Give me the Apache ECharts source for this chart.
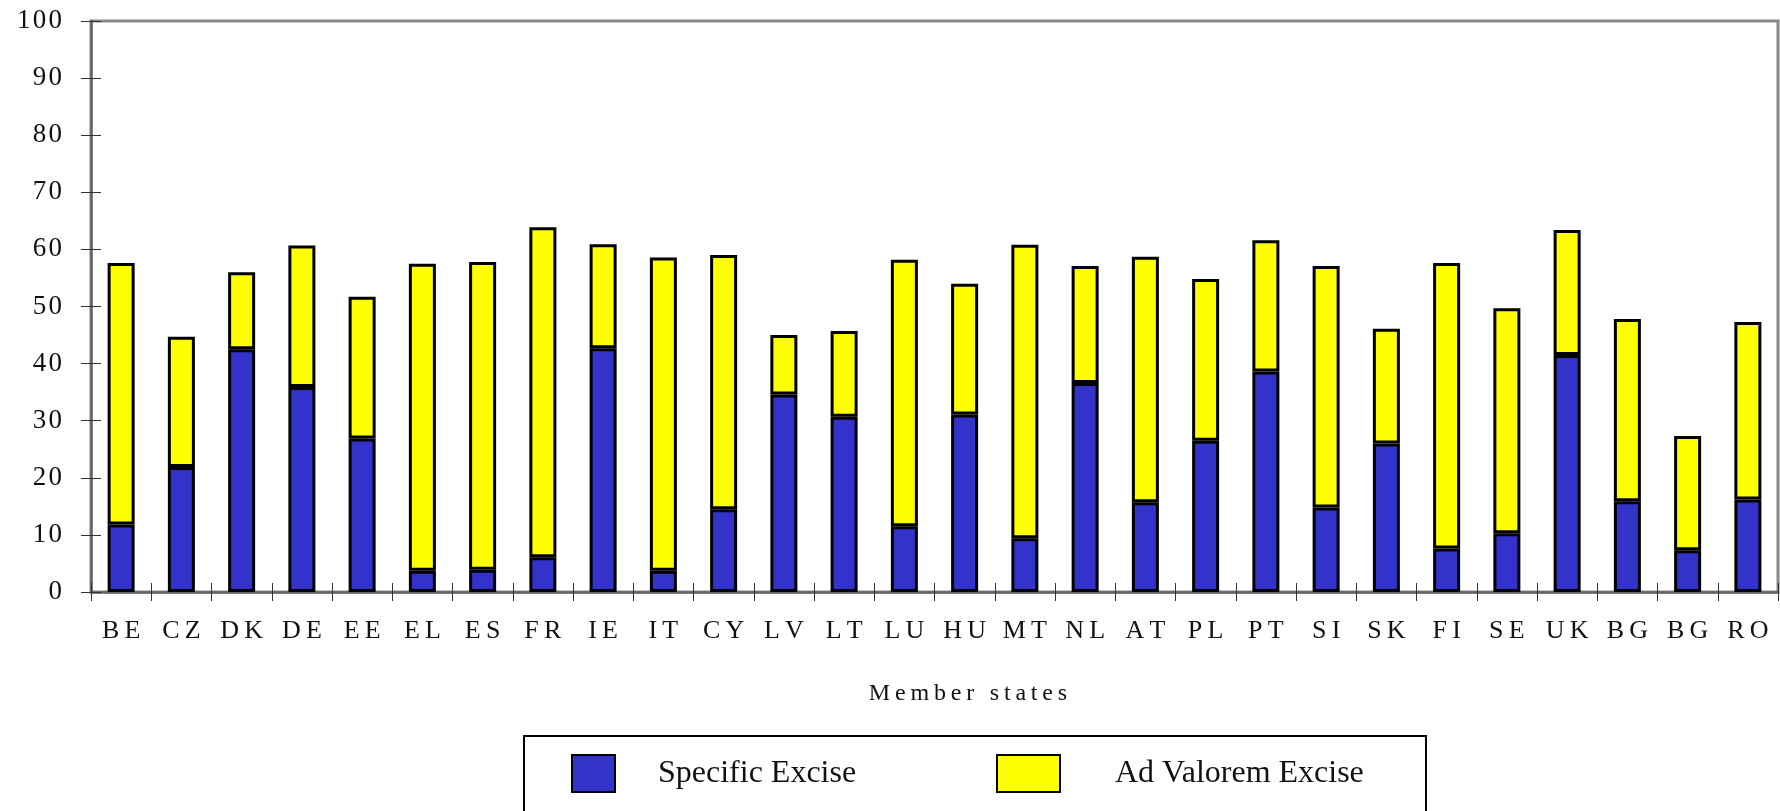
<!DOCTYPE html>
<html>
<head>
<meta charset="utf-8">
<title>Specific and ad valorem excise by member state</title>
<script src="https://cdn.jsdelivr.net/npm/echarts@6/dist/echarts.min.js"></script>
<style>
  html, body { margin: 0; padding: 0; background: #fff; }
  #chart { width: 1780px; height: 811px; }
</style>
</head>
<body>
<div id="chart"></div>
<script>
// member states (x axis)
const states = ['BE', 'CZ', 'DK', 'DE', 'EE', 'EL', 'ES', 'FR', 'IE', 'IT', 'CY', 'LV', 'LT', 'LU',
  'HU', 'MT', 'NL', 'AT', 'PL', 'PT', 'SI', 'SK', 'FI', 'SE', 'UK', 'BG', 'BG', 'RO'];

// specific excise (bottom part of each bar)
const specificExcise = [11.8, 21.9, 42.5, 35.9, 26.9, 3.7, 3.9, 6.1, 42.7, 3.7, 14.5, 34.6, 30.7, 11.5,
  31.1, 9.4, 36.6, 15.7, 26.5, 38.6, 14.8, 26.0, 7.6, 10.3, 41.5, 15.9, 7.3, 16.2];

// ad valorem excise (top part, total minus specific)
const adValoremExcise = [45.8, 22.8, 13.5, 24.8, 24.8, 53.8, 53.9, 57.8, 18.2, 54.9, 44.5, 10.4, 15.0, 46.7,
  22.9, 51.4, 20.5, 43.0, 28.3, 23.0, 42.3, 20.1, 50.0, 39.4, 21.9, 31.9, 20.0, 31.1];

const yTicks = { min: 0, max: 100, interval: 10 };

// letter spacing as in the original
const spaced = s => String(s).split('').join('\u200A');
const spacedWide = s => String(s).split('').join('\u2009');

const font = 'Liberation Serif';
const chart = echarts.init(document.getElementById('chart'));

const tickOnly = {
  show: true,
  axisLine: { show: false },
  axisLabel: { show: false },
  splitLine: { show: false }
};

chart.setOption({
  animation: false,
  backgroundColor: '#fff',
  grid: {
    left: 91, right: 2, top: 21, bottom: 219,
    show: true, borderColor: '#888', borderWidth: 3
  },
  title: {
    text: spacedWide('Member states'),
    left: 963, top: 677, textAlign: 'center',
    textStyle: { fontFamily: font, fontSize: 24, fontWeight: 'normal', color: '#111' }
  },
  graphic: [{
    type: 'rect', z: 1,
    shape: { x: 524, y: 736, width: 902, height: 120 },
    style: { fill: '#fff', stroke: '#000', lineWidth: 2 }
  }],
  legend: [
    {
      data: ['Specific Excise'], left: 571, top: 754, icon: 'rect', padding: 0,
      itemWidth: 43, itemHeight: 37, z: 5,
      textStyle: { fontFamily: font, fontSize: 32, color: '#111', padding: [10, 0, 0, 38] }
    },
    {
      data: ['Ad Valorem Excise'], left: 996, top: 754, icon: 'rect', padding: 0,
      itemWidth: 63, itemHeight: 37, z: 5,
      textStyle: { fontFamily: font, fontSize: 32, color: '#111', padding: [10, 0, 0, 50] }
    }
  ],
  xAxis: [
    {
      type: 'category', data: states, position: 'bottom',
      axisLine: { lineStyle: { color: '#666', width: 2.5 } },
      axisTick: { show: true, length: 9, lineStyle: { color: '#333', width: 1 } },
      axisLabel: {
        interval: 0, margin: 26, color: '#111',
        fontFamily: font, fontSize: 26, formatter: spacedWide
      },
      splitLine: { show: false }
    },
    Object.assign({
      type: 'category', data: states, position: 'bottom',
      axisTick: { show: true, inside: true, length: 9, lineStyle: { color: '#333', width: 1 } }
    }, tickOnly)
  ],
  yAxis: [
    {
      type: 'value', min: yTicks.min, max: yTicks.max, interval: yTicks.interval, position: 'left',
      axisLine: { show: true, lineStyle: { color: '#666', width: 2.5 } },
      axisTick: { show: true, length: 10, lineStyle: { color: '#333', width: 1 } },
      axisLabel: {
        margin: 29, color: '#111',
        fontFamily: font, fontSize: 27, formatter: spaced
      },
      splitLine: { show: false }
    },
    Object.assign({
      type: 'value', min: yTicks.min, max: yTicks.max, interval: yTicks.interval, position: 'left',
      axisTick: { show: true, inside: true, length: 10, lineStyle: { color: '#333', width: 1 } }
    }, tickOnly)
  ],
  series: [
    {
      name: 'Specific Excise', type: 'bar', stack: 'excise',
      barWidth: 27, data: specificExcise,
      itemStyle: { color: '#3333CC', borderColor: '#000', borderWidth: 3 }
    },
    {
      name: 'Ad Valorem Excise', type: 'bar', stack: 'excise',
      barWidth: 27, data: adValoremExcise,
      itemStyle: { color: '#FFFF00', borderColor: '#000', borderWidth: 3 }
    }
  ]
});
</script>
</body>
</html>
